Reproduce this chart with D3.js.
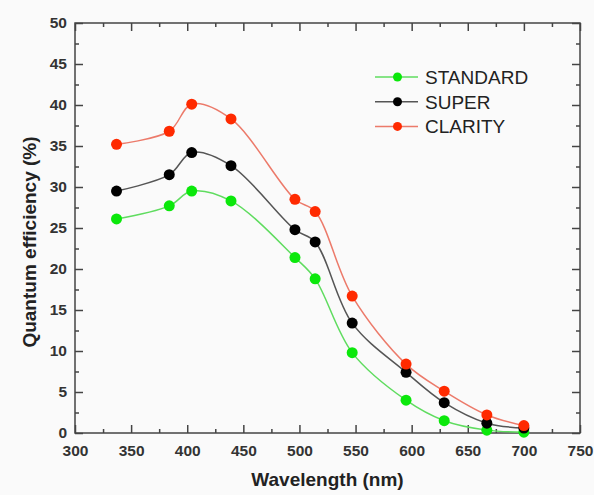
<!DOCTYPE html>
<html>
<head>
<meta charset="utf-8">
<script src="https://cdn.jsdelivr.net/npm/d3@7"></script>
<style>
  body { margin: 0; background: #fafafa; }
  svg { display: block; }
  .tick text { font-family: "Liberation Sans", Arial, sans-serif; font-weight: bold; font-size: 15.5px; fill: #333; }
</style>
</head>
<body>
<div id="chart"></div>
<script>
// values
const wavelengths = [337, 384, 404, 439, 496, 514, 547, 595, 629, 667, 700];
const standardQE = [26.1, 27.7, 29.5, 28.3, 21.4, 18.8, 9.8, 4.0, 1.5, 0.35, 0.1];
const superQE = [29.5, 31.5, 34.2, 32.6, 24.8, 23.3, 13.4, 7.4, 3.7, 1.2, 0.6];
const clarityQE = [35.2, 36.8, 40.1, 38.3, 28.5, 27.0, 16.7, 8.4, 5.1, 2.2, 0.9];
const seriesNames = ['STANDARD', 'SUPER', 'CLARITY'];
const xTickValues = [300, 350, 400, 450, 500, 550, 600, 650, 700, 750];
const yTickValues = [0, 5, 10, 15, 20, 25, 30, 35, 40, 45, 50];

const series = [
  { name: seriesNames[0], values: standardQE, dot: '#0be80b', line: '#5fdc5f' },
  { name: seriesNames[1], values: superQE, dot: '#000000', line: '#555555' },
  { name: seriesNames[2], values: clarityQE, dot: '#ff2a00', line: '#ec7a6a' }
];

const W = 594, H = 495;
const margin = { top: 23, right: 14, bottom: 63, left: 75 };

const svg = d3.select('#chart').append('svg')
  .attr('width', W)
  .attr('height', H);

svg.append('rect').attr('width', W).attr('height', H).attr('fill', '#fafafa');

const x = d3.scaleLinear().domain([300, 750]).range([margin.left, W - margin.right]);
const y = d3.scaleLinear().domain([0, 50]).range([H - margin.bottom + 1, margin.top]);

const x0 = x.range()[0], x1 = x.range()[1];
const y0 = y.range()[0], y1 = y.range()[1];

const xMinor = xTickValues.slice(0, -1).map(v => v + 25);
const yMinor = yTickValues.slice(0, -1).map(v => v + 2.5);

function styleAxis(g) {
  g.select('.domain').remove();
  g.selectAll('line').attr('stroke', '#444').attr('stroke-width', 1.5);
}

// bottom axis: labelled major ticks + minor ticks, all pointing inward
svg.append('g')
  .attr('transform', `translate(0,${y0})`)
  .call(d3.axisBottom(x).tickValues(xTickValues).tickSize(-8).tickPadding(12).tickFormat(d3.format('d')))
  .call(styleAxis)
  .selectAll('text').attr('dy', '0.71em');
svg.append('g')
  .attr('transform', `translate(0,${y0})`)
  .call(d3.axisBottom(x).tickValues(xMinor).tickSize(-4).tickFormat(''))
  .call(styleAxis);

// top axis (ticks only)
svg.append('g')
  .attr('transform', `translate(0,${y1})`)
  .call(d3.axisTop(x).tickValues(xTickValues).tickSize(-8).tickFormat(''))
  .call(styleAxis);
svg.append('g')
  .attr('transform', `translate(0,${y1})`)
  .call(d3.axisTop(x).tickValues(xMinor).tickSize(-4).tickFormat(''))
  .call(styleAxis);

// left axis
svg.append('g')
  .attr('transform', `translate(${x0},0)`)
  .call(d3.axisLeft(y).tickValues(yTickValues).tickSize(-8).tickPadding(8).tickFormat(d3.format('d')))
  .call(styleAxis);
svg.append('g')
  .attr('transform', `translate(${x0},0)`)
  .call(d3.axisLeft(y).tickValues(yMinor).tickSize(-4).tickFormat(''))
  .call(styleAxis);

// right axis (ticks only)
svg.append('g')
  .attr('transform', `translate(${x1},0)`)
  .call(d3.axisRight(y).tickValues(yTickValues).tickSize(-8).tickFormat(''))
  .call(styleAxis);
svg.append('g')
  .attr('transform', `translate(${x1},0)`)
  .call(d3.axisRight(y).tickValues(yMinor).tickSize(-4).tickFormat(''))
  .call(styleAxis);

// frame
svg.append('rect')
  .attr('x', x0).attr('y', y1)
  .attr('width', x1 - x0).attr('height', y0 - y1)
  .attr('fill', 'none')
  .attr('stroke', '#444')
  .attr('stroke-width', 1.5);

// curves + markers
const line = d3.line()
  .x((d, i) => x(wavelengths[i]))
  .y(d => y(d))
  .curve(d3.curveCatmullRom.alpha(0.5));

series.forEach(s => {
  svg.append('path')
    .datum(s.values)
    .attr('d', line)
    .attr('fill', 'none')
    .attr('stroke', s.line)
    .attr('stroke-width', 1.5);
});

series.forEach(s => {
  svg.append('g').selectAll('circle')
    .data(s.values)
    .enter()
    .append('circle')
    .attr('cx', (d, i) => x(wavelengths[i]))
    .attr('cy', d => y(d))
    .attr('r', 5.5)
    .attr('fill', s.dot);
});

// legend
const legend = svg.append('g').attr('transform', 'translate(375,77)');
series.forEach((s, i) => {
  const row = legend.append('g').attr('transform', `translate(0,${i * 24.7})`);
  row.append('line')
    .attr('x1', 0).attr('x2', 43)
    .attr('y1', 0).attr('y2', 0)
    .attr('stroke', s.line)
    .attr('stroke-width', 1.5);
  row.append('circle')
    .attr('cx', 22.5).attr('cy', 0).attr('r', 4.5)
    .attr('fill', s.dot);
  row.append('text')
    .attr('x', 50).attr('y', 0).attr('dy', '0.36em')
    .attr('font-family', '"Liberation Sans", Arial, sans-serif')
    .attr('font-size', '19px')
    .attr('fill', '#222')
    .text(s.name);
});

// axis titles
svg.append('text')
  .attr('x', (x0 + x1) / 2)
  .attr('y', 486)
  .attr('text-anchor', 'middle')
  .attr('font-family', '"Liberation Sans", Arial, sans-serif')
  .attr('font-weight', 'bold')
  .attr('font-size', '19px')
  .attr('fill', '#222')
  .text('Wavelength (nm)');

svg.append('text')
  .attr('transform', `translate(36,${(y0 + y1) / 2 + 14}) rotate(-90)`)
  .attr('text-anchor', 'middle')
  .attr('font-family', '"Liberation Sans", Arial, sans-serif')
  .attr('font-weight', 'bold')
  .attr('font-size', '19px')
  .attr('fill', '#222')
  .text('Quantum efficiency (%)');
</script>
</body>
</html>
